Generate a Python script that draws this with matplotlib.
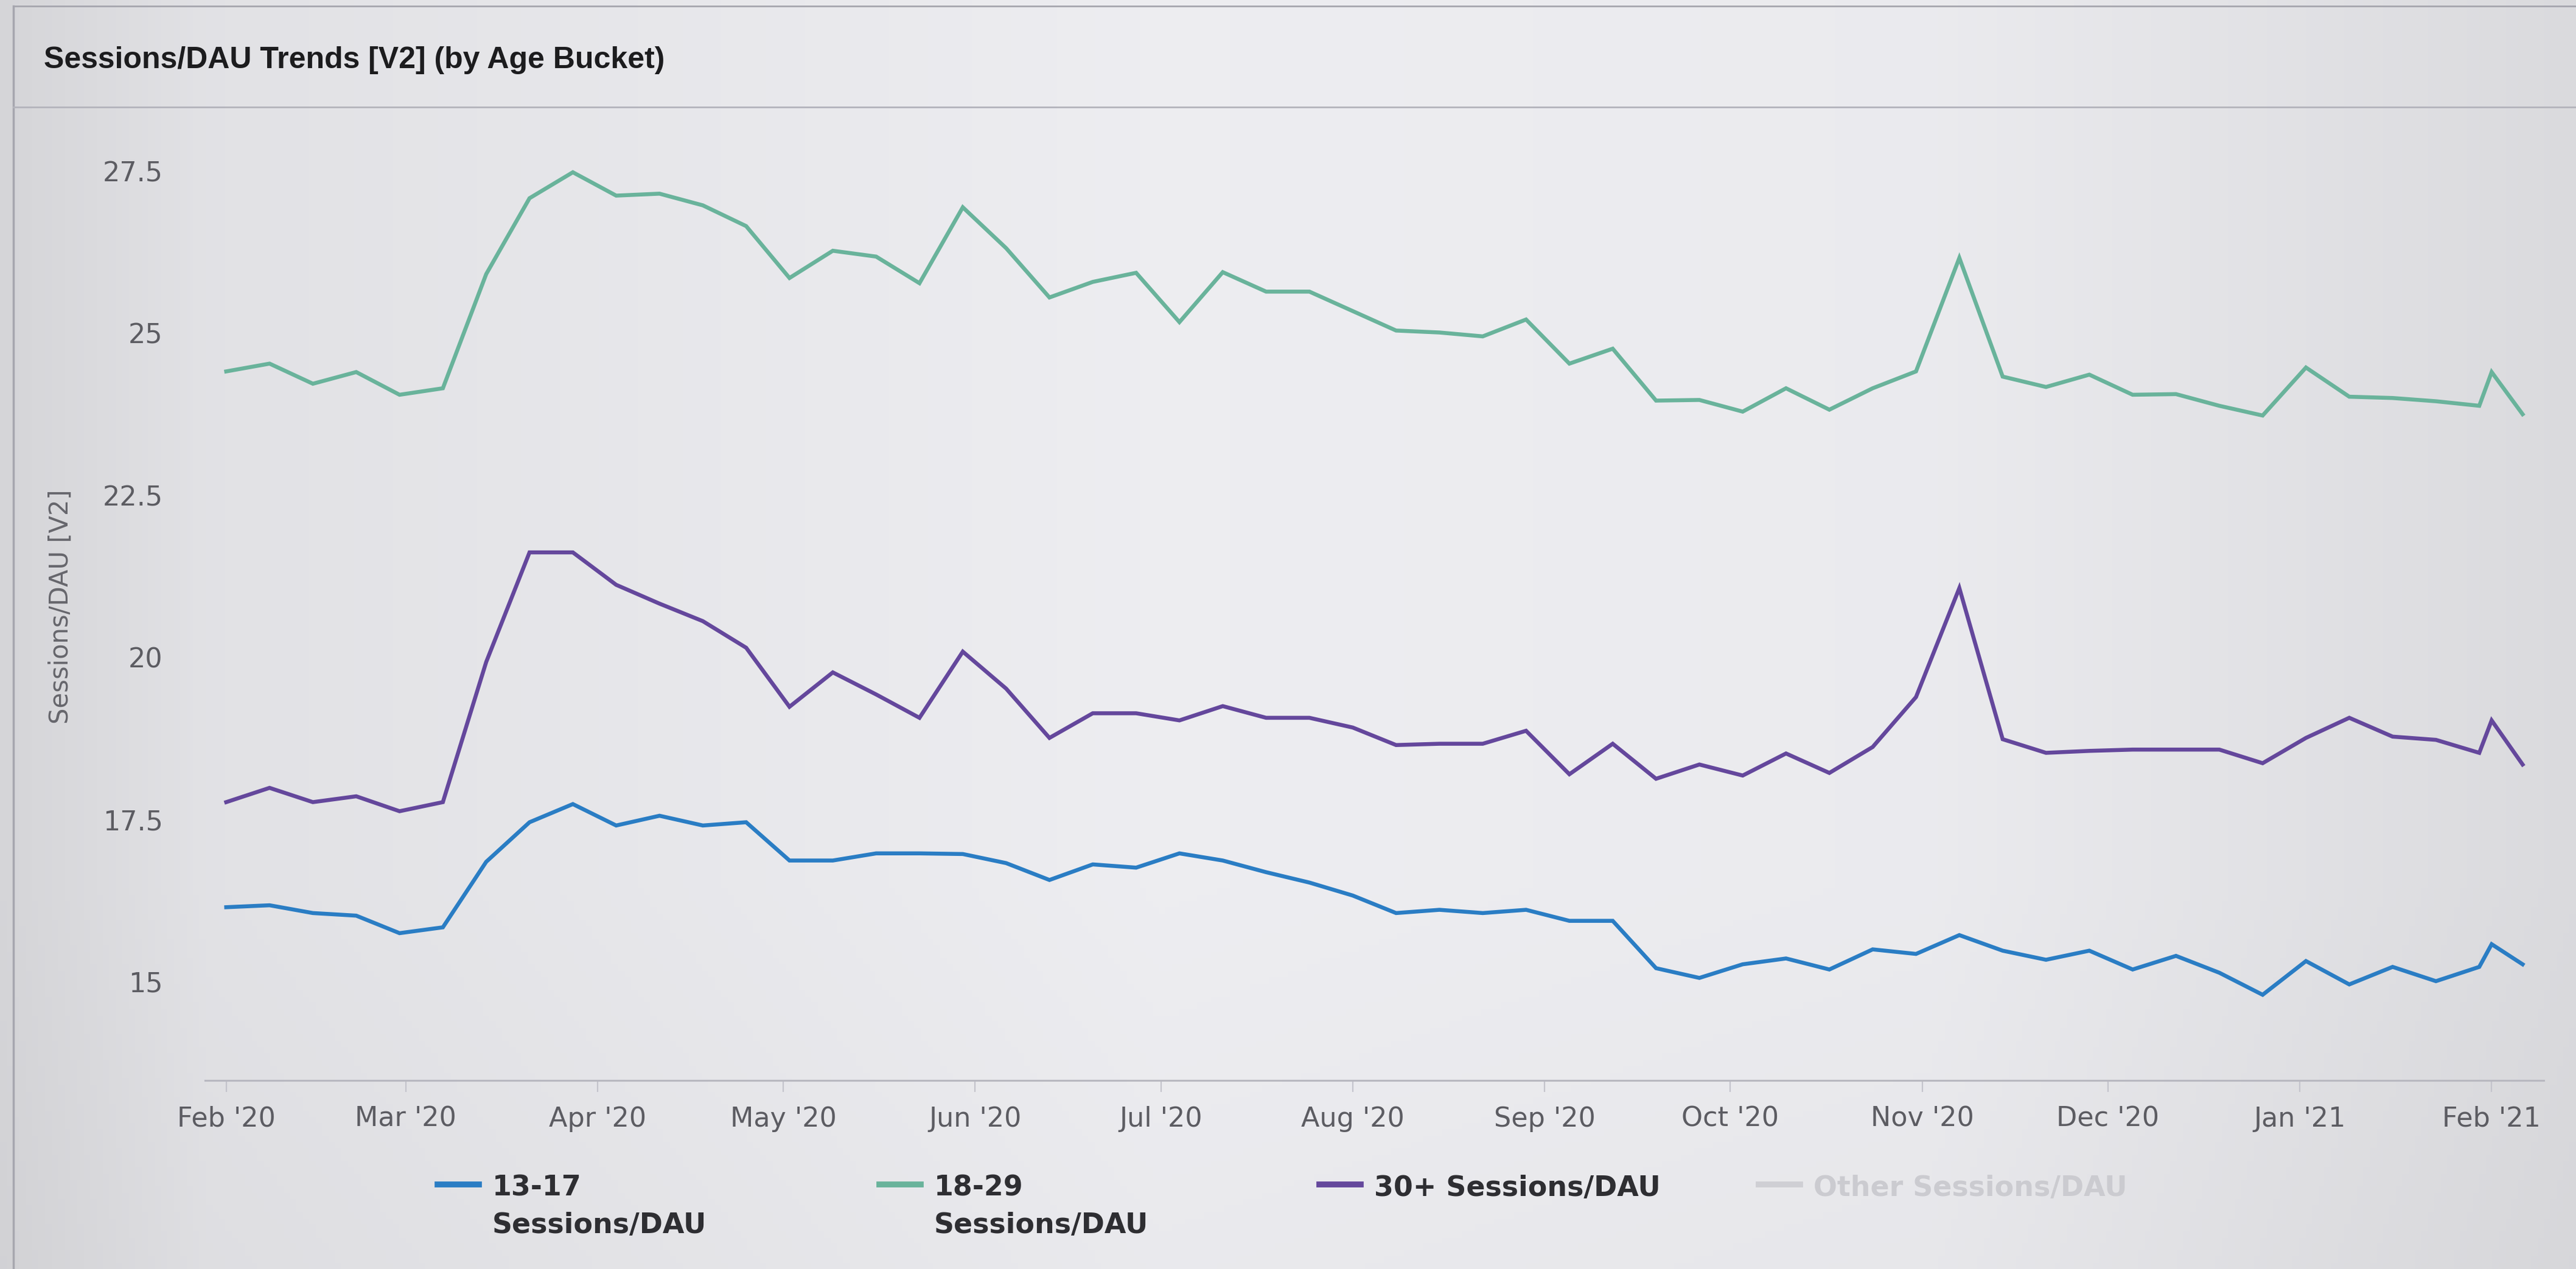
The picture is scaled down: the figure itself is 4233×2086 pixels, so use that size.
import pandas as pd
import numpy as np
import matplotlib.pyplot as plt
import matplotlib.dates as mdates
from matplotlib.lines import Line2D

# weekly points, plus two trailing points at the start of Feb '21
dates = pd.date_range('2020-02-01', periods=53, freq='7D').append(
    pd.DatetimeIndex(['2021-02-01', '2021-02-06']))

sessions_13_17 = [16.15, 16.18, 16.06, 16.02, 15.75, 15.84, 16.85, 17.46, 17.74, 17.41,
                  17.56, 17.41, 17.46, 16.87, 16.87, 16.98, 16.98, 16.97, 16.83, 16.57,
                  16.81, 16.76, 16.98, 16.87, 16.69, 16.53, 16.33, 16.06, 16.11, 16.06,
                  16.11, 15.94, 15.94, 15.21, 15.06, 15.27, 15.36, 15.19, 15.50, 15.43,
                  15.72, 15.48, 15.34, 15.48, 15.19, 15.40, 15.14, 14.80, 15.32, 14.96,
                  15.23, 15.01, 15.23, 15.58, 15.27]
sessions_18_29 = [24.41, 24.53, 24.22, 24.40, 24.05, 24.15, 25.91, 27.08, 27.48, 27.12,
                  27.15, 26.97, 26.65, 25.85, 26.27, 26.18, 25.77, 26.94, 26.31, 25.55,
                  25.79, 25.93, 25.17, 25.94, 25.64, 25.64, 25.34, 25.04, 25.01, 24.95,
                  25.21, 24.53, 24.76, 23.96, 23.97, 23.79, 24.15, 23.82, 24.15, 24.41,
                  26.16, 24.33, 24.17, 24.36, 24.05, 24.06, 23.88, 23.73, 24.47, 24.02,
                  24.00, 23.95, 23.88, 24.40, 23.75]
sessions_30_plus = [17.77, 17.99, 17.77, 17.86, 17.63, 17.77, 19.93, 21.62, 21.62, 21.12,
                    20.83, 20.56, 20.15, 19.24, 19.77, 19.43, 19.07, 20.09, 19.52, 18.76,
                    19.14, 19.14, 19.03, 19.25, 19.07, 19.07, 18.92, 18.65, 18.67, 18.67,
                    18.87, 18.20, 18.67, 18.13, 18.35, 18.18, 18.52, 18.22, 18.62, 19.39,
                    21.07, 18.74, 18.53, 18.56, 18.58, 18.58, 18.58, 18.37, 18.76, 19.07,
                    18.78, 18.73, 18.53, 19.03, 18.35]

y_ticks = [15, 17.5, 20, 22.5, 25, 27.5]
y_tick_labels = ['15', '17.5', '20', '22.5', '25', '27.5']

series = [
    ('13-17\nSessions/DAU', sessions_13_17, '#2a7dc4'),
    ('18-29\nSessions/DAU', sessions_18_29, '#69b39b'),
    ('30+ Sessions/DAU', sessions_30_plus, '#64479c'),
    ('Other Sessions/DAU', None, '#cfcfd4'),   # hidden series, legend only
]

W, H = 4233, 2086
fig = plt.figure(figsize=(W / 100, H / 100), dpi=100)

# soft grey backdrop of the dashboard panel
bg = fig.add_axes([0, 0, 1, 1], zorder=-10)
xs = np.linspace(0, 1, 400)
ys = np.linspace(0, 1, 200)
shade_x = np.interp(xs, [0, 0.08, 0.45, 0.75, 1.0], [0.84, 0.89, 0.935, 0.925, 0.86])
shade_y = np.interp(ys, [0, 0.3, 1.0], [0.985, 1.0, 1.0])
shade = np.outer(shade_y, shade_x)
rgb = np.dstack([shade * 0.995, shade * 0.995, shade * 1.01]).clip(0, 1)
bg.imshow(rgb, extent=[0, 1, 0, 1], aspect='auto', origin='lower')
bg.set_axis_off()

# panel frame and header separator
def fx(px):
    return px / W

def fy(py):
    return 1 - py / H

frame = '#a6a6ae'
fig.add_artist(Line2D([fx(22), fx(22)], [0, fy(10)], color=frame, lw=2.5))
fig.add_artist(Line2D([fx(22), 1], [fy(10), fy(10)], color=frame, lw=2.0))
fig.add_artist(Line2D([fx(22), 1], [fy(176), fy(176)], color='#b4b4bc', lw=2.0))

fig.text(fx(72), fy(112), 'Sessions/DAU Trends [V2] (by Age Bucket)',
         family='Liberation Sans', weight='bold', fontsize=36, color='#1c1c1e',
         ha='left', va='baseline')

ax = fig.add_axes([fx(337), fy(1776), fx(4180) - fx(337), fy(200) - fy(1776)])
ax.set_facecolor('none')

for label, values, color in series:
    if values is None:
        continue
    ax.plot(dates, values, color=color, lw=4.7, solid_joinstyle='miter')

ax.set_xlim(pd.Timestamp('2020-01-28 14:00'), pd.Timestamp('2021-02-09 10:00'))
ax.set_ylim(13.48, 28.26)

ax.set_yticks(y_ticks)
ax.set_yticklabels(y_tick_labels)
ax.xaxis.set_major_locator(mdates.MonthLocator())
ax.xaxis.set_major_formatter(mdates.DateFormatter("%b '%y"))

for side in ['left', 'right', 'top']:
    ax.spines[side].set_visible(False)
ax.spines['bottom'].set_color('#b8b8c0')
ax.spines['bottom'].set_linewidth(2.2)

ax.tick_params(axis='y', length=0, pad=50, labelsize=32, labelcolor='#5c5c62')
ax.tick_params(axis='x', direction='out', length=14, width=1.6, color='#c4c4cc',
               pad=16, labelsize=32, labelcolor='#5c5c62')
for t in ax.get_xticklabels() + ax.get_yticklabels():
    t.set_family('DejaVu Sans')

fig.text(fx(100), fy(997), 'Sessions/DAU [V2]', rotation=90, ha='center', va='center',
         family='DejaVu Sans', fontsize=30, color='#66666c')

# legend row below the axis
legend_x = [719, 1445, 2168, 2890]
for (label, values, color), x0 in zip(series, legend_x):
    fig.add_artist(Line2D([fx(x0), fx(x0 + 68)], [fy(1947), fy(1947)], color=color, lw=7))
    text_color = '#cbcbd0' if values is None else '#2e2e32'
    for i, line in enumerate(label.split('\n')):
        fig.text(fx(x0 + 90), fy(1966 + i * 61), line, family='DejaVu Sans',
                 weight='bold', fontsize=33, color=text_color, ha='left', va='baseline')

fig.savefig('out.png', dpi=100)
